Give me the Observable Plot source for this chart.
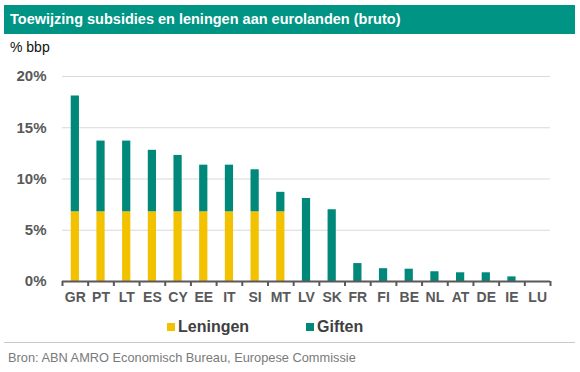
<!DOCTYPE html>
<html>
<head>
<meta charset="utf-8">
<script src="https://cdn.jsdelivr.net/npm/d3@7"></script>
<script src="https://cdn.jsdelivr.net/npm/@observablehq/plot@0.6"></script>
<style>
  html, body { margin: 0; padding: 0; background: #fff; }
  #wrap { position: relative; width: 580px; height: 372px; font-family: "Liberation Sans", Arial, sans-serif; overflow: hidden; }
  #title { position: absolute; left: 4px; top: 5px; width: 571px; height: 29px; background: #009484; color: #fff; font-weight: bold; font-size: 14.5px; line-height: 29px; padding-left: 6px; box-sizing: border-box; }
  #unit { position: absolute; left: 10px; top: 39px; font-size: 14px; color: #111; }
  #chart { position: absolute; left: 0; top: 60px; }
  #legend { position: absolute; left: 0; top: 318px; width: 580px; font-size: 16px; font-weight: bold; color: #404040; }
  .item { position: absolute; top: 0; line-height: 18px; }
  .sw { display: inline-block; width: 8px; height: 8px; margin-right: 3px; vertical-align: 1px; }
  #sep { position: absolute; left: 4px; top: 342px; width: 571px; height: 1px; background: #c8c8c8; }
  #source { position: absolute; left: 8px; top: 350px; font-size: 12.8px; color: #7a7a7a; }
</style>
</head>
<body>
<div id="wrap">
  <div id="title">Toewijzing subsidies en leningen aan eurolanden (bruto)</div>
  <div id="unit">% bbp</div>
  <div id="chart"></div>
  <div id="legend"></div>
  <div id="sep"></div>
  <div id="source">Bron: ABN AMRO Economisch Bureau, Europese Commissie</div>
</div>
<script>
const categories = ["GR","PT","LT","ES","CY","EE","IT","SI","MT","LV","SK","FR","FI","BE","NL","AT","DE","IE","LU"];
const leningen = [6.8,6.8,6.8,6.8,6.8,6.8,6.8,6.8,6.8,0,0,0,0,0,0,0,0,0,0];
const giften   = [11.3,6.9,6.9,6.0,5.5,4.55,4.55,4.1,1.9,8.1,7.0,1.75,1.25,1.2,0.95,0.85,0.85,0.45,0];
const seriesNames = ["Leningen","Giften"];
const seriesColors = ["#f2c100","#00897a"];
const yTicks = [0,5,10,15,20];

const rows = [];
categories.forEach((c,i) => {
  rows.push({land: c, serie: seriesNames[0], waarde: leningen[i]});
  rows.push({land: c, serie: seriesNames[1], waarde: giften[i]});
});

const W = 580, H = 250, mL = 62, mR = 30, mT = 16, mB = 29;
const step = (W - mL - mR) / categories.length;
const axisColor = "#595959";

const chart = Plot.plot({
  width: W, height: H,
  marginLeft: mL, marginRight: mR, marginTop: mT, marginBottom: mB,
  style: {fontFamily: "Liberation Sans, Arial, sans-serif", overflow: "visible"},
  x: {domain: categories, paddingInner: 0.68, paddingOuter: 0.34, round: false},
  y: {domain: [0, 20]},
  color: {domain: seriesNames, range: seriesColors},
  marks: [
    Plot.ruleY(yTicks.filter(d => d > 0), {stroke: "#d9d9d9", strokeWidth: 1}),
    Plot.barY(rows, {x: "land", y: "waarde", fill: "serie", order: seriesNames}),
    Plot.ruleY([0], {stroke: axisColor, strokeWidth: 2}),
    Plot.axisY({ticks: yTicks, tickSize: 0, tickPadding: 16, tickFormat: d => d + "%",
      fontSize: 15, fontWeight: "bold", fill: "#595959", label: null}),
    Plot.axisX({tickSize: 0, tickPadding: 11, fontSize: 14, fontWeight: "bold", fill: "#595959", label: null}),
    Plot.axisX({tickSize: 5, tickFormat: () => "", dx: -step/2, stroke: axisColor, strokeWidth: 2, label: null}),
    Plot.axisX({ticks: [categories[categories.length-1]], tickSize: 5, tickFormat: () => "", dx: step/2, stroke: axisColor, strokeWidth: 2, label: null})
  ]
});
document.getElementById("chart").appendChild(chart);

const legend = document.getElementById("legend");
const lx = [167, 306];
seriesNames.forEach((n, i) => {
  const el = document.createElement("div");
  el.className = "item";
  el.style.left = lx[i] + "px";
  el.innerHTML = `<span class="sw" style="background:${seriesColors[i]}"></span>${n}`;
  legend.appendChild(el);
});
</script>
</body>
</html>
